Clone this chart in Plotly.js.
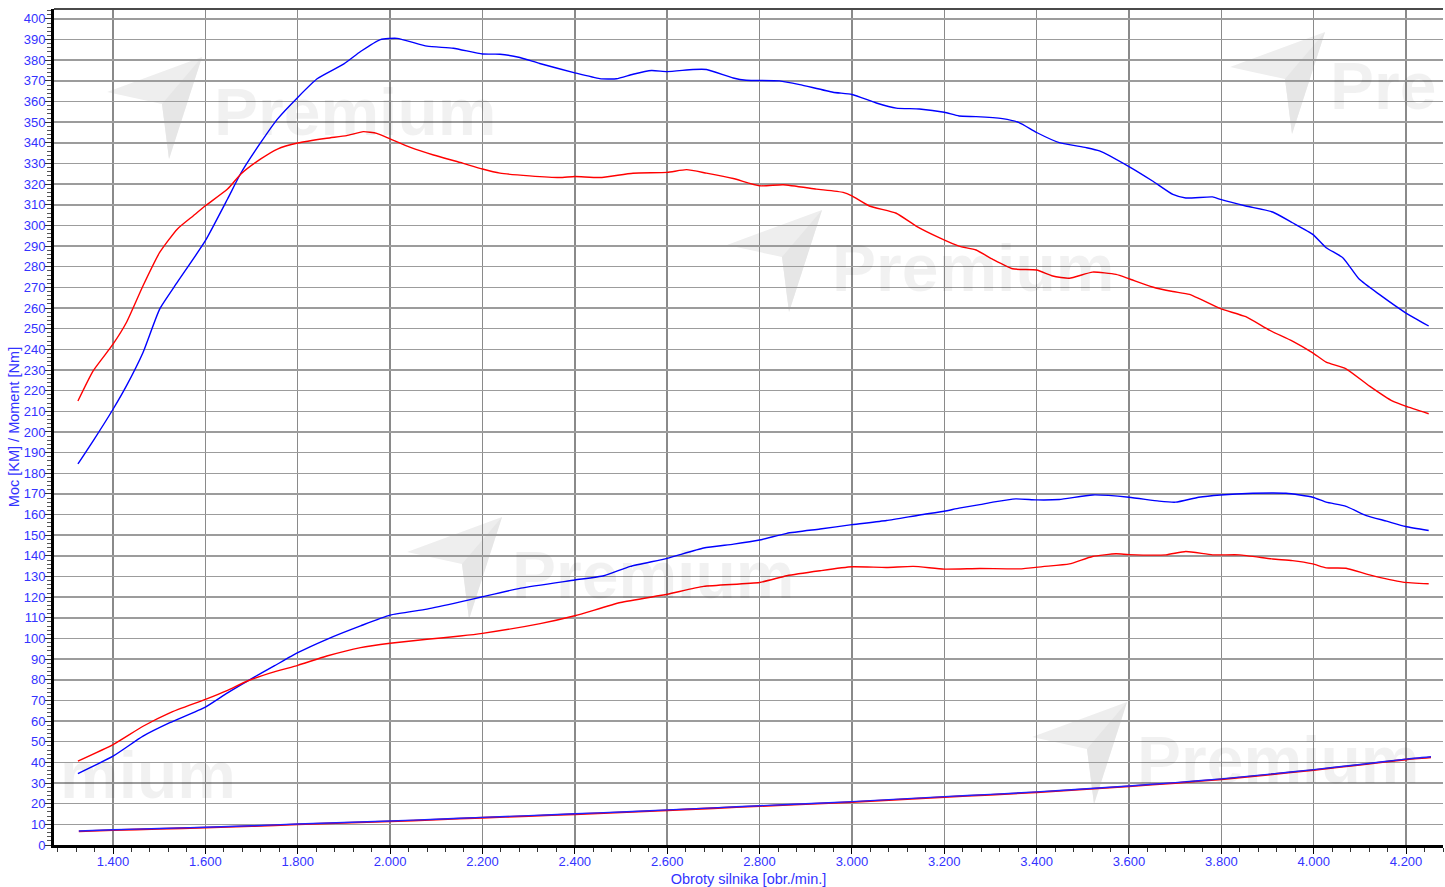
<!DOCTYPE html>
<html>
<head>
<meta charset="utf-8">
<script src="https://cdn.plot.ly/plotly-3.0.1.min.js"></script>
<style>html,body{margin:0;padding:0;background:#fff;}#chart{width:1445px;height:887px;}</style>
</head>
<body>
<div id="chart"></div>
<script>
// ---- Data ----
var rpmTorqueBlue = [1324,1357,1400,1429,1465,1501,1539,1600,1648,1677,1720,1756,1800,1842,1900,1936,1979,2015,2080,2137,2200,2238,2281,2324,2400,2454,2490,2526,2566,2600,2656,2685,2743,2771,2843,2887,2959,3000,3053,3096,3146,3200,3232,3269,3326,3362,3400,3449,3507,3536,3600,3651,3695,3723,3781,3798,3853,3911,3954,3998,4027,4063,4099,4142,4199,4249];
var torqueBlue = [184.5,195.7,211,222.3,238.5,259.5,272.4,292.6,312.8,325.4,340.2,351.5,362,371,378.2,384.2,390,390.6,386.8,385.8,383,382.9,381.3,378.4,373.9,371.1,371,373.2,375,374.5,375.5,375.5,371.4,370.3,370,368.2,364.5,363.4,359.3,356.8,356.4,354.8,353,352.7,351.7,349.8,345,340.1,337.7,336.1,328.5,321.5,315,313.3,313.8,312.6,309.4,306.5,301.3,295.7,289.2,284.4,273.9,266.6,257.7,251.3];

var rpmTorqueRed = [1324,1357,1400,1429,1465,1501,1539,1574,1600,1648,1677,1720,1756,1800,1863,1906,1942,1971,2000,2044,2094,2152,2200,2238,2302,2367,2400,2454,2526,2600,2642,2685,2743,2800,2851,2923,2981,3000,3038,3096,3139,3190,3232,3269,3305,3348,3400,3435,3471,3521,3572,3600,3651,3695,3731,3798,3853,3904,3954,3998,4027,4070,4121,4171,4199,4249];
var torqueRed = [215,229.6,242.5,253,270.8,286.9,298.2,304.7,309.5,317.6,324.9,332.2,337,339.9,342.2,343.5,345.4,344.6,341.9,337.8,334.1,330.5,327.3,325.3,324,323.2,323.7,323.2,325.3,325.7,327,325.3,322.7,319.2,319.7,317.6,316,314.3,309.4,305.9,299.7,294,290,288.1,283.6,279,278.4,275.5,274.4,277.4,276.3,274.2,270.2,268,266.6,259.7,255.8,249.3,244,238.3,233.8,230.6,222.2,214.9,212.5,208.8];

var rpmPowerBlue = [1324,1400,1465,1523,1600,1648,1691,1749,1800,1863,1936,2000,2080,2152,2200,2283,2400,2463,2520,2600,2679,2744,2800,2859,2931,3000,3075,3147,3200,3232,3277,3305,3355,3400,3449,3521,3600,3665,3701,3751,3798,3868,3940,3998,4027,4070,4114,4158,4199,4249];
var powerBlue = [34.6,43,52.7,59.2,66.8,73.7,79.4,86.7,93.1,99.6,106.1,111.3,114.2,117.7,120.2,124.4,128.3,130.4,134.9,138.8,143.8,145.7,147.7,150.9,153,155.1,157.1,159.8,161.6,163.1,164.8,166,167.6,167.1,167.3,169.5,168.4,166.5,166,168.4,169.5,170.3,170.3,168.4,166,164,159.5,156.8,154.2,152.3];

var rpmPowerRed = [1324,1400,1465,1523,1600,1648,1691,1749,1800,1863,1936,2000,2080,2152,2200,2325,2400,2499,2600,2679,2800,2859,2931,3000,3075,3133,3200,3277,3362,3413,3471,3521,3572,3600,3680,3723,3781,3839,3911,3954,3998,4027,4070,4121,4193,4249];
var powerRed = [40.6,48.6,57.5,64,70.5,74.9,79.4,83.8,87,91.5,95.6,97.7,99.6,101.2,102.5,107.2,111,117.4,121.4,125.2,127.1,130.4,132.8,134.7,134.4,134.9,133.6,133.9,133.7,134.8,136.1,139.7,141,140.6,140.5,142.1,140.5,140.5,138.5,137.7,136.1,134.2,134,130.8,127.3,126.5];

var rpmLoss = [1326,1400,1500,1600,1700,1800,1900,2000,2100,2200,2300,2400,2500,2600,2700,2800,2900,3000,3100,3200,3300,3400,3500,3600,3700,3800,3900,4000,4100,4200,4254];
var lossBlue = [6.8,7.4,8.0,8.6,9.3,10.2,10.9,11.6,12.5,13.4,14.2,15.1,16.0,17.0,18.0,19.0,20.0,21.0,22.2,23.4,24.5,25.7,27.1,28.6,30.2,32.0,34.2,36.5,39.0,41.6,42.7];
var lossRed = [6.6,7.2,7.8,8.4,9.1,10.0,10.7,11.4,12.3,13.2,14.0,14.9,15.8,16.8,17.8,18.8,19.8,20.8,22.0,23.2,24.3,25.5,26.9,28.4,30.0,31.8,34.0,36.3,38.8,41.4,42.4];

var xTickVals = [1400,1600,1800,2000,2200,2400,2600,2800,3000,3200,3400,3600,3800,4000,4200];
var xTickText = ['1.400','1.600','1.800','2.000','2.200','2.400','2.600','2.800','3.000','3.200','3.400','3.600','3.800','4.000','4.200'];

var xTitle = 'Obroty silnika [obr./min.]';
var yTitle = 'Moc [KM] / Moment [Nm]';
var watermarkWord = 'Premium';

// ---- Layout helpers (pixel -> paper for decorative watermark) ----
var L = 54, T = 9, W = 1389, H = 836;
function px(x){ return (x - L) / W; }
function py(y){ return (T + H - y) / H; }

var labelColor = '#3333ff';
var labelFont = {family: 'Liberation Sans, Arial, sans-serif', size: 13, color: labelColor};
var titleFont = {family: 'Liberation Sans, Arial, sans-serif', size: 14.5, color: labelColor};

function line(x, y, color, w){
  return {x: x, y: y, type: 'scatter', mode: 'lines',
    line: {color: color, width: w || 1.4, shape: 'spline', smoothing: 0.5},
    hoverinfo: 'skip', showlegend: false};
}

var traces = [
  line(rpmLoss, lossRed, '#ff0000', 1.8),
  line(rpmLoss, lossBlue, '#2020ff', 1.4),
  line(rpmPowerBlue, powerBlue, '#0000ff'),
  line(rpmPowerRed, powerRed, '#ff0000'),
  line(rpmTorqueBlue, torqueBlue, '#0000ff'),
  line(rpmTorqueRed, torqueRed, '#ff0000')
];

// watermark logos (left corner of triangle) and words (left, centre)
var logoCorners = [[107,92],[727,245],[407,552],[1032,737],[1230,67]];
var wordSpots = [[212,112,watermarkWord],[830,268,watermarkWord],[510,575,watermarkWord],[1135,760,watermarkWord],[1328,86,'Pre'],[58,775,'mium']];

var shapes = [];
logoCorners.forEach(function(c){
  var a = [c[0], c[1]], b = [c[0]+95, c[1]-35], d = [c[0]+62, c[1]+67], n = [c[0]+55, c[1]+12];
  shapes.push({type:'path', xref:'paper', yref:'paper', layer:'below',
    path: 'M '+px(a[0])+' '+py(a[1])+' L '+px(b[0])+' '+py(b[1])+' L '+px(d[0])+' '+py(d[1])+' L '+px(n[0])+' '+py(n[1])+' Z',
    fillcolor:'#eeeeee', line:{width:0}});
  shapes.push({type:'path', xref:'paper', yref:'paper', layer:'below',
    path: 'M '+px(n[0])+' '+py(n[1])+' L '+px(b[0])+' '+py(b[1])+' L '+px(d[0])+' '+py(d[1])+' Z',
    fillcolor:'#e6e6e6', line:{width:0}});
});
// top frame line
shapes.push({type:'line', xref:'paper', yref:'paper', x0:0, x1:1, y0:1, y1:1, line:{color:'#4a4a4a', width:2}});

var annotations = wordSpots.map(function(s){
  return {xref:'paper', yref:'paper', x: px(s[0]), y: py(s[1]), xanchor:'left', yanchor:'middle',
    text: '<b>'+s[2]+'</b>', showarrow:false,
    font:{family:'Liberation Sans, Arial, sans-serif', size:66, color:'rgba(0,0,0,0.055)'}};
});

var layout = {
  width: 1445, height: 887,
  margin: {l: L, r: 2, t: T, b: 42, pad: 0},
  paper_bgcolor: '#ffffff', plot_bgcolor: '#ffffff',
  showlegend: false,
  xaxis: {
    range: [1272.2, 4280],
    tickmode: 'array', tickvals: xTickVals, ticktext: xTickText,
    showgrid: true, gridcolor: '#8a8a8a', gridwidth: 1.5,
    zeroline: false,
    showline: true, linecolor: '#000000', linewidth: 3,
    ticks: 'outside', ticklen: 6, tickwidth: 1, tickcolor: '#000000',
    ticklabelstandoff: -4,
    minor: {tickmode: 'linear', tick0: 0, dtick: 40, ticks: 'outside', ticklen: 4, tickcolor: '#333333', tickwidth: 1, showgrid: false},
    tickfont: labelFont,
    title: {text: xTitle, font: titleFont, standoff: 7},
    automargin: false, fixedrange: true
  },
  yaxis: {
    range: [0, 404.8],
    tickmode: 'linear', tick0: 0, dtick: 10,
    showgrid: true, gridcolor: '#9c9c9c', gridwidth: 1.5,
    zeroline: false,
    showline: true, linecolor: '#000000', linewidth: 3,
    ticks: 'outside', ticklen: 6, tickwidth: 1, tickcolor: '#333333',
    ticklabelstandoff: -3,
    minor: {tickmode: 'linear', tick0: 0, dtick: 2, ticks: 'outside', ticklen: 4, tickcolor: '#555555', tickwidth: 1, showgrid: false},
    tickfont: labelFont,
    title: {text: yTitle, font: titleFont, standoff: 1},
    automargin: false, fixedrange: true
  },
  shapes: shapes,
  annotations: annotations
};

Plotly.newPlot('chart', traces, layout, {displayModeBar: false, staticPlot: true});
</script>
</body>
</html>
